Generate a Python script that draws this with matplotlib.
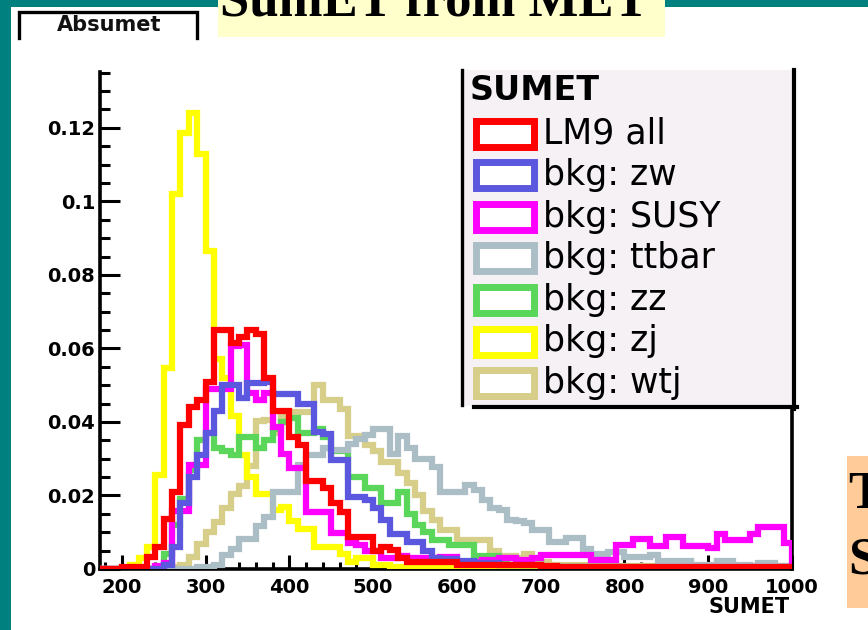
import numpy as np
import matplotlib.pyplot as plt
from matplotlib.patches import Rectangle
from matplotlib.ticker import MultipleLocator

W, H = 868, 630

# SUMET, 10 GeV bins from 170 to 1000 (normalised entries)
edges = np.arange(170, 1001, 10)

lm9_all = [
    0, 0, 0, 0.0005, 0.0005, 0.0005, 0.0032, 0.006, 0.0135, 0.021,
    0.0392, 0.044, 0.046, 0.051, 0.065, 0.065, 0.0614, 0.063, 0.065, 0.0638,
    0.052, 0.043, 0.043, 0.036, 0.0337, 0.024, 0.024, 0.022, 0.018, 0.0155,
    0.0087, 0.0087, 0.0087, 0.0049, 0.006, 0.0053, 0.003, 0.002, 0.002, 0.002,
    0.002, 0.002, 0.002, 0.001, 0.001, 0.0012, 0.001, 0.001, 0.001, 0.001,
    0.001, 0.001, 0.001, 0.0008, 0.0008, 0.0006, 0.0006, 0.0006, 0.0006, 0.0006,
    0.0006, 0.0006, 0.0006, 0.0006, 0.0006, 0.0006, 0.0006, 0.0006, 0.0006, 0.0006,
    0.0006, 0.0006, 0.0006, 0.0006, 0.0006, 0.0006, 0.0006, 0.0006, 0.0006, 0.0006,
    0.0006, 0.0006, 0.0006,
]
bkg_zw = [
    0, 0, 0, 0, 0, 0, 0, 0, 0.001, 0.006,
    0.018, 0.025, 0.031, 0.037, 0.043, 0.050, 0.050, 0.0466, 0.0507, 0.0507,
    0.051, 0.0475, 0.0475, 0.0475, 0.045, 0.045, 0.0374, 0.0366, 0.0297, 0.0297,
    0.0195, 0.0195, 0.0187, 0.0165, 0.0133, 0.0096, 0.0096, 0.0073, 0.0073, 0.005,
    0.0031, 0.0028, 0.0028, 0.0022, 0.0022, 0.0015, 0.0015, 0.0015, 0.001, 0.001,
    0.001, 0.001, 0.001, 0.0006, 0.0006, 0.0006, 0.0006, 0.0006, 0.0006, 0.0006,
    0.0006, 0.0006, 0.0006, 0.0004, 0.0004, 0.0004, 0.0004, 0.0004, 0.0004, 0.0004,
    0.0004, 0.0004, 0.0004, 0.0004, 0.0004, 0.0004, 0.0004, 0.0004, 0.0004, 0.0004,
    0.0004, 0.0004, 0.0004,
]
bkg_susy = [
    0, 0, 0, 0, 0, 0, 0, 0.0008, 0.0015, 0.0158,
    0.0158, 0.0283, 0.0283, 0.049, 0.049, 0.049, 0.0607, 0.061, 0.048, 0.046,
    0.048, 0.0385, 0.0314, 0.0276, 0.0276, 0.0156, 0.0156, 0.0156, 0.0099, 0.0099,
    0.007, 0.0065, 0.005, 0.005, 0.003, 0.003, 0.0035, 0.003, 0.003, 0.003,
    0.003, 0.0032, 0.0032, 0.002, 0.002, 0.002, 0.0025, 0.0025, 0.003, 0.003,
    0.0025, 0.0025, 0.003, 0.0037, 0.0037, 0.0037, 0.0037, 0.0037, 0.0037, 0.0024,
    0.0024, 0.0024, 0.0066, 0.0066, 0.0082, 0.0082, 0.0062, 0.0062, 0.0088, 0.0088,
    0.0062, 0.0062, 0.0062, 0.0058, 0.0095, 0.008, 0.008, 0.008, 0.0094, 0.0115,
    0.0115, 0.0115, 0.0072,
]
bkg_ttbar = [
    0, 0, 0, 0, 0, 0, 0, 0, 0, 0,
    0, 0, 0.0005, 0.0005, 0.001, 0.0038, 0.0054, 0.0082, 0.0082, 0.0118,
    0.0142, 0.021, 0.021, 0.021, 0.0283, 0.031, 0.031, 0.033, 0.0325, 0.0325,
    0.034, 0.0355, 0.0365, 0.038, 0.038, 0.0314, 0.0362, 0.033, 0.030, 0.030,
    0.0278, 0.021, 0.021, 0.021, 0.0228, 0.0215, 0.0188, 0.0165, 0.016, 0.0133,
    0.013, 0.0124, 0.0105, 0.0105, 0.0074, 0.0074, 0.0085, 0.0085, 0.0054, 0.004,
    0.004, 0.0045, 0.0045, 0.0032, 0.0032, 0.0032, 0.0038, 0.0021, 0.0021, 0.0021,
    0.0021, 0.001, 0.001, 0.0012, 0.0021, 0.0021, 0.0012, 0.0012, 0.0008, 0.0015,
    0.0015, 0.0008, 0.0008,
]
bkg_zz = [
    0, 0, 0, 0, 0, 0, 0, 0.0005, 0.004, 0.012,
    0.019, 0.027, 0.035, 0.037, 0.033, 0.032, 0.031, 0.036, 0.036, 0.033,
    0.035, 0.038, 0.040, 0.041, 0.037, 0.037, 0.038, 0.036, 0.032, 0.032,
    0.025, 0.025, 0.022, 0.022, 0.018, 0.018, 0.021, 0.015, 0.012, 0.010,
    0.008, 0.008, 0.0065, 0.0065, 0.0065, 0.0035, 0.0035, 0.0035, 0.002, 0.003,
    0.002, 0.001, 0.001, 0.0005, 0.0005, 0.0005, 0.0005, 0.0005, 0.0005, 0.0005,
    0.0005, 0.0005, 0.0005, 0.0005, 0.0005, 0.0005, 0.0005, 0.0005, 0.0005, 0.001,
    0.001, 0.0005, 0.0005, 0.0005, 0.0005, 0.0005, 0.0005, 0.0005, 0.0005, 0.0005,
    0.0005, 0.0005, 0.0005,
]
bkg_zj = [
    0, 0, 0, 0, 0.001, 0.003, 0.006, 0.0255, 0.0546, 0.102,
    0.1185, 0.124, 0.113, 0.0865, 0.057, 0.052, 0.0416, 0.031, 0.025, 0.0205,
    0.0205, 0.016, 0.017, 0.013, 0.011, 0.011, 0.006, 0.006, 0.006, 0.004,
    0.002, 0.003, 0.003, 0.001, 0.001, 0.0005, 0.0005, 0.0005, 0.0005, 0.0005,
    0.0003, 0.0003, 0.0003, 0.0003, 0.0003, 0.0003, 0.0003, 0.0003, 0.0003, 0.0003,
    0.0003, 0.0003, 0.0003, 0.0003, 0.0003, 0.0003, 0.0003, 0.0003, 0.0003, 0.0003,
    0.0003, 0.0003, 0.0003, 0.0003, 0.0003, 0.0003, 0.0003, 0.0003, 0.0003, 0.0003,
    0.0003, 0.0003, 0.0003, 0.0003, 0.0003, 0.0003, 0.0003, 0.0003, 0.0003, 0.0003,
    0.0003, 0.0003, 0.0003,
]
bkg_wtj = [
    0, 0, 0, 0, 0, 0, 0, 0, 0.0005, 0.0005,
    0.001, 0.0032, 0.0067, 0.0101, 0.0127, 0.0165, 0.0205, 0.0225, 0.028, 0.0403,
    0.0405, 0.037, 0.0415, 0.0428, 0.0428, 0.0428, 0.050, 0.046, 0.046, 0.0435,
    0.0362, 0.0362, 0.0338, 0.032, 0.029, 0.029, 0.026, 0.0235, 0.020, 0.0157,
    0.0133, 0.0107, 0.0107, 0.0079, 0.0079, 0.0079, 0.0079, 0.005, 0.0035, 0.0035,
    0.003, 0.004, 0.002, 0.002, 0.001, 0.001, 0.001, 0.001, 0.001, 0.001,
    0.0008, 0.0008, 0.0008, 0.0008, 0.0008, 0.0008, 0.0008, 0.0008, 0.0008, 0.0008,
    0.0008, 0.0008, 0.0008, 0.0008, 0.0008, 0.0008, 0.0008, 0.0008, 0.0008, 0.0008,
    0.0008, 0.0008, 0.0008,
]

names = ["LM9 all", "bkg: zw", "bkg: SUSY", "bkg: ttbar", "bkg: zz", "bkg: zj", "bkg: wtj"]
colors = ["#ff0000", "#5b57de", "#ff00ff", "#abbec6", "#5ad65a", "#ffff00", "#d7ce89"]
series = [lm9_all, bkg_zw, bkg_susy, bkg_ttbar, bkg_zz, bkg_zj, bkg_wtj]

yticks = [0, 0.02, 0.04, 0.06, 0.08, 0.10, 0.12]
ytick_labels = ["0", "0.02", "0.04", "0.06", "0.08", "0.1", "0.12"]
xticks = [200, 300, 400, 500, 600, 700, 800, 900, 1000]

plt.rcParams["font.family"] = ["DejaVu Sans"]

fig = plt.figure(figsize=(W / 100, H / 100), dpi=100)
fig.patch.set_facecolor("white")


def px(x0, y0, x1, y1):
    # pixel box (top-left origin) -> figure fraction rect
    return [x0 / W, 1 - y1 / H, (x1 - x0) / W, (y1 - y0) / H]


ax = fig.add_axes(px(100, 72, 792, 569))
# last legend entry drawn first so LM9 ends up on top
for vals, col in reversed(list(zip(series, colors))):
    st = ax.stairs(vals, edges, baseline=0, color=col, lw=4.5, zorder=3)
    st.set_joinstyle("miter")
    st.set_capstyle("butt")

ax.set_xlim(174, 1000)
ax.set_ylim(0, 0.1352)
ax.set_xticks(xticks)
ax.set_xticklabels([str(t) for t in xticks])
ax.set_yticks(yticks)
ax.set_yticklabels(ytick_labels)
ax.xaxis.set_minor_locator(MultipleLocator(20))
ax.yaxis.set_minor_locator(MultipleLocator(0.005))
ax.tick_params(axis="x", which="major", direction="in", length=10, width=2.2,
               pad=6.5, labelsize=14)
ax.tick_params(axis="x", which="minor", direction="in", length=5, width=2.2)
ax.tick_params(axis="y", which="major", direction="in", length=14.5, width=2.2,
               pad=3.5, labelsize=14)
ax.tick_params(axis="y", which="minor", direction="in", length=7, width=2.2)
for lab in ax.get_xticklabels() + ax.get_yticklabels():
    lab.set_fontweight("bold")
ax.spines["top"].set_visible(False)
for s in ("left", "bottom", "right"):
    ax.spines[s].set_linewidth(2.6)

# slide decorations, legend and labels in pixel coordinates
ov = fig.add_axes([0, 0, 1, 1], zorder=5)
ov.set_xlim(0, W)
ov.set_ylim(H, 0)
ov.axis("off")
ov.patch.set_alpha(0)

teal = "#00807f"
ov.add_patch(Rectangle((0, 0), 11, H, fc=teal, ec="none"))
ov.add_patch(Rectangle((0, 0), W, 7, fc=teal, ec="none"))
ov.add_patch(Rectangle((218, 0), 447, 37, fc="#ffffcc", ec="none"))
ov.text(434, 15, "SumET from MET", ha="center", va="baseline", fontsize=38,
        family="Liberation Serif", fontweight="bold", color="black")

# histogram name box, cut at the bottom
ov.plot([18.5, 18.5, 197, 197], [38, 11.5, 11.5, 38], color="black", lw=2.4,
        solid_joinstyle="miter")
ov.text(109, 25, "Absumet", ha="center", va="center", fontsize=15,
        fontweight="bold", color="#111111")

# legend
ov.add_patch(Rectangle((461, 70), 332, 336, fc="#f5f1f5", ec="none"))
ov.plot([461.5, 461.5], [70, 405], color="black", lw=2.4)
ov.plot([793.5, 793.5], [70, 409], color="black", lw=3)
ov.plot([474, 797], [407, 407], color="black", lw=3)
ov.text(470, 100, "SUMET", ha="left", va="baseline", fontsize=24,
        fontweight="bold", color="black")
for i, (name, col) in enumerate(zip(names, colors)):
    yc = 133.5 + 41.6 * i
    ov.add_patch(Rectangle((475.5, yc - 13), 58, 26, fc="white", ec=col,
                           lw=5, joinstyle="miter"))
    ov.text(543, yc + 10, name, ha="left", va="baseline", fontsize=25,
            color="black")

ov.text(790, 607, "SUMET", ha="right", va="center", fontsize=15,
        fontweight="bold", color="black")

# side box of the slide, cut by the page edge
ov.add_patch(Rectangle((847, 456), 25, 152, fc="#ffcc99", ec="none"))
ov.text(848, 508, "T", ha="left", va="baseline", fontsize=38,
        family="Liberation Serif", fontweight="bold", color="black")
ov.text(848, 573, "S", ha="left", va="baseline", fontsize=38,
        family="Liberation Serif", fontweight="bold", color="black")

fig.savefig("out.png", dpi=100)
